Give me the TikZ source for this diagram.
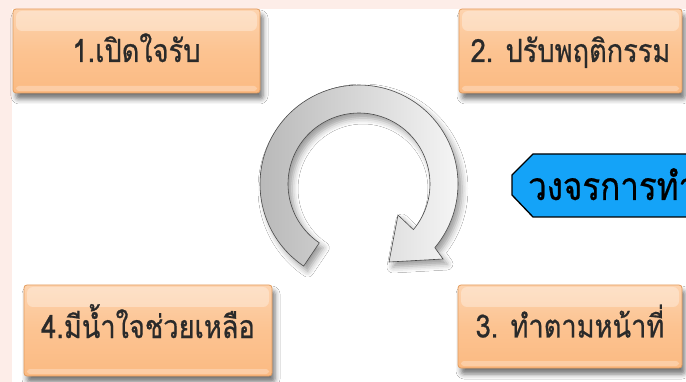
\documentclass[tikz,border=0pt]{standalone}
\usepackage{fontspec}
\newfontfamily\thaibox[Script=Thai,FakeStretch=0.85,FakeBold=0.6]{Loma}
\newfontfamily\thaititle[Script=Thai,FakeStretch=0.85,FakeBold=0.6]{Loma}
\usetikzlibrary{shadows.blur,calc}
\definecolor{pinkbg}{HTML}{FDEDE8}
\definecolor{boxtop}{HTML}{FDD3AE}
\definecolor{boxmid}{HTML}{FCC391}
\definecolor{boxbot}{HTML}{FBBA82}
\definecolor{boxborder}{HTML}{E49C5E}
\definecolor{boxtext}{HTML}{2A2A2A}
\definecolor{titleblue}{HTML}{14A3F8}
\definecolor{arrowdark}{HTML}{B9B9B9}
\definecolor{arrowlight}{HTML}{F5F5F5}
\definecolor{arrowline}{HTML}{4A4A4A}
\tikzset{
  stepbox/.style={rounded corners=3pt, draw=boxborder, line width=0.8pt,
    top color=boxtop, bottom color=boxbot, middle color=boxmid,
    inner sep=0pt, text=boxtext, font=\thaibox\fontsize{32}{34}\selectfont,
    text height=22pt,
    blur shadow={shadow xshift=3pt, shadow yshift=-6pt, shadow blur radius=5pt, shadow opacity=55},
    path picture={
      \fill[white, opacity=0.32, rounded corners=6pt]
        ($(path picture bounding box.north west)+(3,2)$) rectangle
        ($(path picture bounding box.north east)+(-3,22)$);
      \fill[white, opacity=0.28]
        ($(path picture bounding box.south west)+(3,-7)$) rectangle
        ($(path picture bounding box.south east)+(-3,-2)$);
    }},
  cyclearrow/.style={left color=arrowdark, right color=arrowlight,
    draw=arrowline, line width=0.6pt,
    blur shadow={shadow xshift=4pt, shadow yshift=-5pt, shadow blur radius=6pt, shadow opacity=40}},
  titlebox/.style={fill=titleblue, draw=black, line width=1.3pt, line join=miter},
  titletext/.style={anchor=base west, inner sep=0pt, text=black,
    font=\thaititle\fontsize{39}{41}\selectfont}
}
\begin{document}
\begin{tikzpicture}[x=1pt,y=-1pt]
\useasboundingbox (0,0) rectangle (686,382);
\clip (0,0) rectangle (686,382);
\fill[pinkbg] (0,0) rectangle (686,382);
\fill[white] (12,9) rectangle (686,382);

% boxes
\node[stepbox, minimum width=247pt, minimum height=84pt, text depth=0pt]
  (b1) at (136.5,51) {1.เปิดใจรับ};
\node[stepbox, minimum width=223pt, minimum height=84pt, text depth=0pt]
  (b2) at (570.5,51) {2. ปรับพฤติกรรม};
\node[stepbox, minimum width=224pt, minimum height=83pt, text depth=0pt]
  (b3) at (570,326.5) {3. ทำตามหน้าที่};
\node[stepbox, minimum width=248pt, minimum height=91pt, text depth=7pt]
  (b4) at (148,330.5) {4.มีน้ำใจช่วยเหลือ};

% circular arrow
\coordinate (C) at (359,184);
\path[cyclearrow]
  plot[domain=-236:40, samples=90] ({359+99*cos(\x)},{184+99*sin(\x)})
  -- (443,259) -- (389,262) -- (398,215)
  -- plot[domain=40:-236, samples=90] ({359+71*cos(\x)},{184+71*sin(\x)})
  -- cycle;

% title tag
\path[titlebox] (533,154) -- (512,175) -- (512,195) -- (533,217)
  -- (700,217) -- (700,154) -- cycle;
\node[titletext] (title) at (528,200) {วงจรการทำ};
\end{tikzpicture}
\end{document}
